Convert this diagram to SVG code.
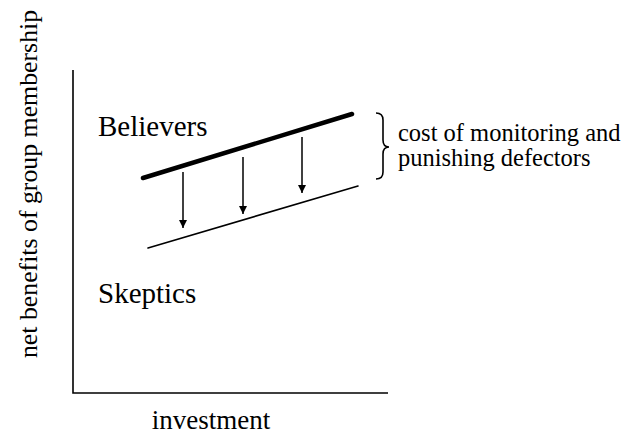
<svg xmlns="http://www.w3.org/2000/svg" width="629" height="444" viewBox="0 0 629 444">
<style>
text{font-family:"Liberation Serif","Times New Roman",serif;fill:#000}
.ax{stroke:#000;stroke-width:1.6;fill:none}
.thin{stroke:#000;stroke-width:1.6;fill:none;stroke-linecap:round}
.thick{stroke:#000;stroke-width:4.5;fill:none;stroke-linecap:round}
.arr{stroke:#000;stroke-width:1.5;fill:none;marker-end:url(#ah)}
</style>
<defs>
<marker id="ah" viewBox="0 0 10 10" refX="10" refY="5" markerWidth="8" markerHeight="12" markerUnits="userSpaceOnUse" orient="auto">
<path d="M0,0 L10,5 L0,10 z" fill="#000"/>
</marker>
</defs>
<rect width="629" height="444" fill="#fff"/>
<g id="axes">
<path class="ax" d="M73,70 L73,393 L388,393"/>
</g>
<g id="believers">
<line class="thick" x1="143" y1="178" x2="352" y2="114"/>
<text x="98" y="136" font-size="29">Believers</text>
</g>
<g id="skeptics">
<line class="thin" x1="148" y1="248" x2="358" y2="186"/>
<text x="98" y="303" font-size="29">Skeptics</text>
</g>
<g id="connectors">
<line class="arr" x1="183" y1="172" x2="183" y2="228"/>
<line class="arr" x1="243" y1="157" x2="243" y2="214"/>
<line class="arr" x1="302" y1="137" x2="302" y2="193"/>
</g>
<g id="cost">
<path class="ax" stroke-width="1.3" d="M376,113 Q383,113 383,120 L383,140 Q383,147 389,147 Q383,147 383,154 L383,172 Q383,179 376,179"/>
<text x="398" y="141" font-size="24.5">cost of monitoring and</text>
<text x="398" y="166" font-size="24.5">punishing defectors</text>
</g>
<g id="xlabel">
<text x="211" y="429" font-size="27" text-anchor="middle">investment</text>
</g>
<g id="ylabel">
<text transform="translate(37,184) rotate(-90)" x="0" y="0" font-size="25.8" text-anchor="middle">net benefits of group membership</text>
</g>
</svg>
